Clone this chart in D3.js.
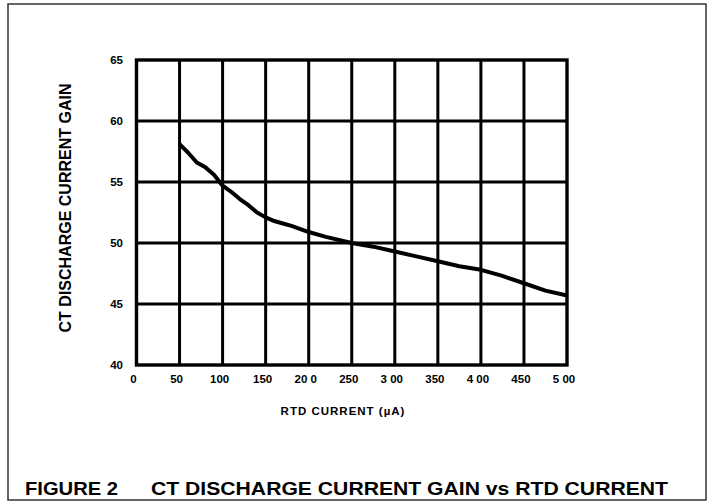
<!DOCTYPE html>
<html>
<head>
<meta charset="utf-8">
<script src="https://cdn.jsdelivr.net/npm/d3@7"></script>
<style>
body { margin: 0; background: #fff; }
text { font-family: "Liberation Sans", Arial, sans-serif; font-weight: bold; fill: #000; }
</style>
</head>
<body>
<div id="chart"></div>
<script>
// data
var current = [50, 60, 70, 80, 90, 100, 110, 120, 130, 140, 150, 160, 170, 180, 200, 220, 250, 275, 300, 325, 350, 375, 400, 425, 450, 475, 500];
var gain = [58.1, 57.4, 56.6, 56.2, 55.6, 54.7, 54.2, 53.6, 53.1, 52.5, 52.1, 51.8, 51.6, 51.4, 50.9, 50.5, 50.0, 49.7, 49.3, 48.9, 48.5, 48.1, 47.8, 47.3, 46.7, 46.1, 45.7];
var xTicks = [0, 50, 100, 150, 200, 250, 300, 350, 400, 450, 500];
var xTickLabels = ["0", "50", "100", "150", "20 0", "250", "3 00", "350", "4 00", "450", "5 00"];
var yTicks = [40, 45, 50, 55, 60, 65];

var svgWidth = 708;
var svgHeight = 502;

var svg = d3.select("#chart")
    .append("svg")
    .attr("width", svgWidth)
    .attr("height", svgHeight);

// outer frame
svg.append("rect")
    .attr("x", 8)
    .attr("y", 4)
    .attr("width", 698)
    .attr("height", 496)
    .attr("fill", "none")
    .attr("stroke", "#333")
    .attr("stroke-width", 1.5);

var x = d3.scaleLinear().domain([0, 500]).range([136.5, 567]);
var y = d3.scaleLinear().domain([40, 65]).range([365, 60]);

// grid
svg.append("g")
    .selectAll("line")
    .data(xTicks.slice(1, -1))
    .enter()
    .append("line")
    .attr("x1", d => x(d))
    .attr("x2", d => x(d))
    .attr("y1", y(65))
    .attr("y2", y(40))
    .attr("stroke", "#000")
    .attr("stroke-width", 3);

svg.append("g")
    .selectAll("line")
    .data(yTicks.slice(1, -1))
    .enter()
    .append("line")
    .attr("x1", x(0))
    .attr("x2", x(500))
    .attr("y1", d => y(d))
    .attr("y2", d => y(d))
    .attr("stroke", "#000")
    .attr("stroke-width", 3);

svg.append("rect")
    .attr("x", x(0))
    .attr("y", y(65))
    .attr("width", x(500) - x(0))
    .attr("height", y(40) - y(65))
    .attr("fill", "none")
    .attr("stroke", "#000")
    .attr("stroke-width", 3.4);

// tick labels
svg.append("g")
    .selectAll("text")
    .data(yTicks)
    .enter()
    .append("text")
    .attr("x", x(0) - 13.5)
    .attr("y", d => y(d))
    .attr("dy", "0.35em")
    .attr("text-anchor", "end")
    .style("font-size", "11.5px")
    .text(d => d);

svg.append("g")
    .selectAll("text")
    .data(xTicks)
    .enter()
    .append("text")
    .attr("x", d => x(d) - 3)
    .attr("y", 383)
    .attr("text-anchor", "middle")
    .style("font-size", "11.5px")
    .text((d, i) => xTickLabels[i]);

// curve
var line = d3.line()
    .x((d, i) => x(current[i]))
    .y(d => y(d))
    .curve(d3.curveLinear);

svg.append("path")
    .datum(gain)
    .attr("d", line)
    .attr("fill", "none")
    .attr("stroke", "#000")
    .attr("stroke-width", 4)
    .attr("stroke-linejoin", "round");

// axis titles
svg.append("text")
    .attr("x", 343)
    .attr("y", 415)
    .attr("text-anchor", "middle")
    .style("font-size", "11.5px")
    .style("letter-spacing", "1px")
    .text("RTD CURRENT (µA)");

svg.append("text")
    .attr("transform", "translate(71, 208) rotate(-90)")
    .attr("text-anchor", "middle")
    .style("font-size", "16px")
    .text("CT DISCHARGE CURRENT GAIN");

// figure caption
svg.append("text")
    .attr("x", 25)
    .attr("y", 495)
    .style("font-size", "19px")
    .attr("textLength", 93)
    .attr("lengthAdjust", "spacingAndGlyphs")
    .text("FIGURE 2");

svg.append("text")
    .attr("x", 151)
    .attr("y", 495)
    .style("font-size", "19px")
    .attr("textLength", 517)
    .attr("lengthAdjust", "spacingAndGlyphs")
    .text("CT DISCHARGE CURRENT GAIN vs RTD CURRENT");
</script>
</body>
</html>
